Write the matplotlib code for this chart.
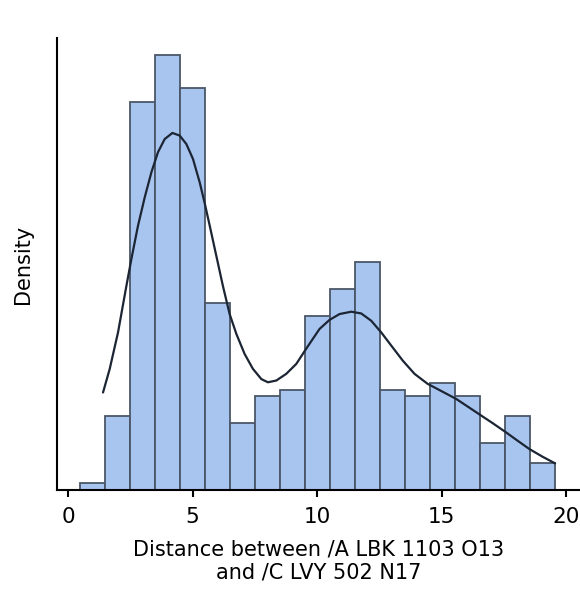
import numpy as np
import matplotlib
matplotlib.use("Agg")
from matplotlib import pyplot as plt

# histogram counts per bin
bin_start = 0.47
bin_width = 1.005
counts = [1, 11, 58, 65, 60, 28, 10, 14, 15, 26, 30, 34, 15, 14, 16, 14, 7, 11, 4]

# smoothed density curve (x, density)
kde_x = [1.404, 1.673, 2.006, 2.343, 2.543, 2.808, 3.077, 3.345, 3.610,
         3.879, 4.188, 4.481, 4.749, 5.014, 5.283, 5.483, 5.684, 5.953,
         6.217, 6.486, 6.755, 7.088, 7.421, 7.758, 8.022, 8.359, 8.760,
         9.162, 9.535, 10.096, 10.497, 10.898, 11.368, 11.769, 12.170,
         12.571, 12.972, 13.438, 13.907, 14.428, 15.070, 15.579, 16.073,
         16.582, 17.076, 17.585, 18.039, 18.520, 19.041, 19.550]
kde_y = [0.0335, 0.0416, 0.0541, 0.0701, 0.0793, 0.0907, 0.1004, 0.1090,
         0.1159, 0.1204, 0.1225, 0.1216, 0.1187, 0.1136, 0.1056, 0.0985,
         0.0908, 0.0803, 0.0700, 0.0604, 0.0536, 0.0467, 0.0416, 0.0381,
         0.0370, 0.0376, 0.0399, 0.0433, 0.0482, 0.0553, 0.0584, 0.0604,
         0.0612, 0.0606, 0.0581, 0.0541, 0.0496, 0.0444, 0.0399, 0.0365,
         0.0336, 0.0313, 0.0285, 0.0256, 0.0228, 0.0198, 0.0170, 0.0141,
         0.0115, 0.0092]

xticks = [0, 5, 10, 15, 20]

counts = np.array(counts)
density = counts / (counts.sum() * bin_width)
lefts = bin_start + bin_width * np.arange(len(counts))

fig = plt.figure(figsize=(5.8, 5.92), dpi=100)
ax = fig.add_axes([0.098, 0.172, 0.902, 0.764])

ax.bar(lefts, density, width=bin_width, align="edge",
       color="#a8c5f0", edgecolor="#4b5768", linewidth=1.3)
ax.plot(kde_x, kde_y, color="#1c2533", linewidth=1.6,
        solid_joinstyle="round", solid_capstyle="round")

ax.set_xlim(-0.45, 20.55)
ax.set_ylim(0, 0.1551)
ax.set_xticks(xticks)
ax.set_yticks([])

for s in ["top", "right"]:
    ax.spines[s].set_visible(False)
for s in ["left", "bottom"]:
    ax.spines[s].set_linewidth(1.5)
    ax.spines[s].set_color("black")

ax.tick_params(axis="x", length=5, width=1.5, labelsize=15.5, pad=7)
ax.set_ylabel("Density", fontsize=15, labelpad=17)
ax.set_xlabel("Distance between /A LBK 1103 O13\nand /C LVY 502 N17",
              fontsize=15, labelpad=9, linespacing=1.2)

fig.savefig("out.png", dpi=100)
